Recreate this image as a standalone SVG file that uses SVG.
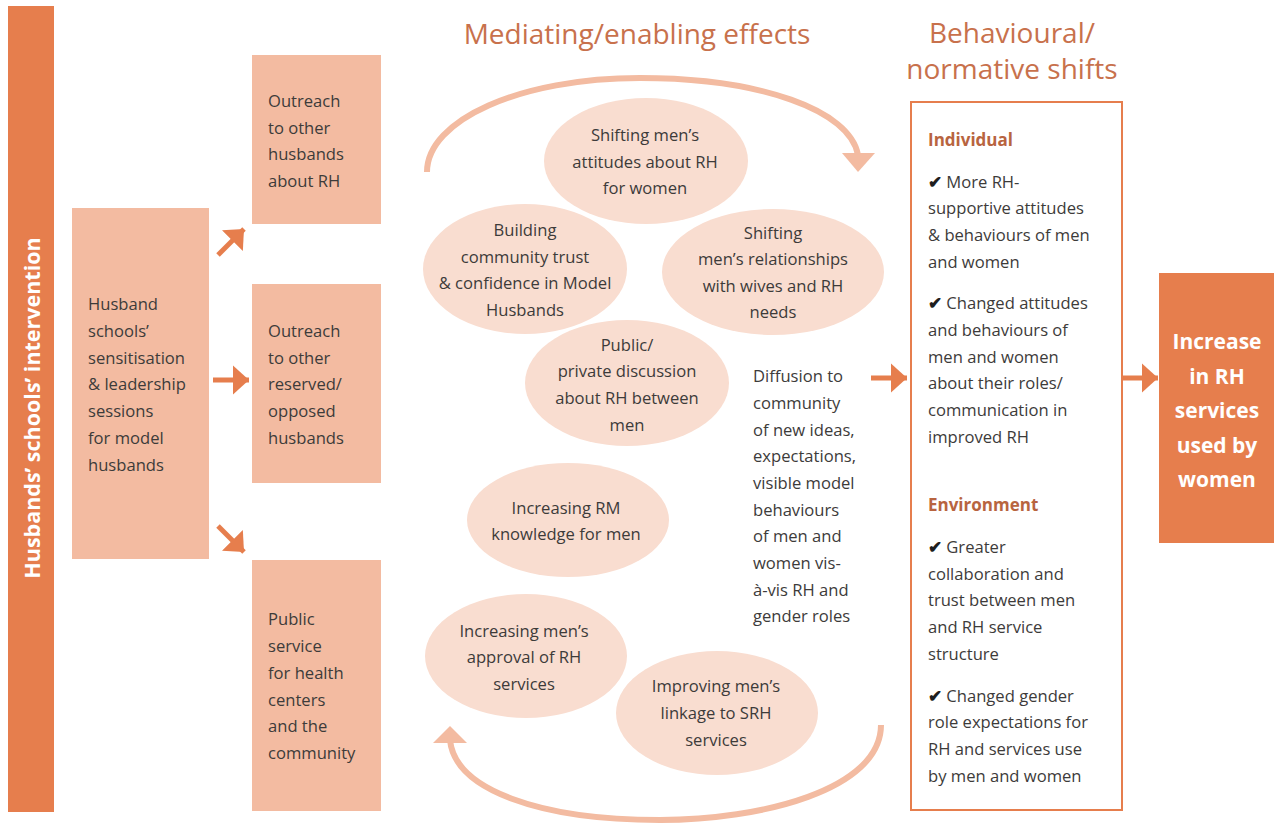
<svg xmlns="http://www.w3.org/2000/svg" width="1274" height="823" viewBox="0 0 1274 823">
<style>
.t{font-family:"Open Sans","Liberation Sans",sans-serif;font-size:16.6px;fill:#3d3b3a}
.c{text-anchor:middle}
.title{font-family:"Open Sans","Liberation Sans",sans-serif;font-size:28px;fill:#c8714c;text-anchor:middle}
.hd{font-family:"Open Sans","Liberation Sans",sans-serif;font-size:17px;font-weight:bold;fill:#b8643f}
.w{font-family:"Open Sans","Liberation Sans",sans-serif;font-weight:bold;fill:#ffffff}
.box{fill:#f3bba1}
.ell{fill:#f9ddd0}
.dark{fill:#e67e4d}
.ck{fill:#1e1e1e;font-weight:bold}
.arr{stroke:#e67e4d;stroke-width:5;fill:none}
</style>
<defs>
<marker id="ah" viewBox="0 0 10 18" refX="10" refY="9" markerWidth="3.3" markerHeight="5.9" orient="auto" markerUnits="strokeWidth">
<path d="M0,0 L10,9 L0,18 z" fill="#e67e4d"/>
</marker>
</defs>

<g id="intervention">
<rect class="dark" x="8" y="6" width="46" height="806"/>
<text class="w" font-size="21.5" text-anchor="middle" transform="translate(40,408) rotate(-90)">Husbands’ schools’ intervention</text>
</g>

<g id="husband-schools">
<rect class="box" x="72" y="208" width="137" height="351"/>
<text class="t" x="88" y="310">Husband</text>
<text class="t" x="88" y="337">schools’</text>
<text class="t" x="88" y="364">sensitisation</text>
<text class="t" x="88" y="390">&amp; leadership</text>
<text class="t" x="88" y="417">sessions</text>
<text class="t" x="88" y="444">for model</text>
<text class="t" x="88" y="471">husbands</text>
</g>

<g id="outreach-husbands">
<rect class="box" x="252" y="55" width="129" height="169"/>
<text class="t" x="268" y="107">Outreach</text>
<text class="t" x="268" y="134">to other</text>
<text class="t" x="268" y="160">husbands</text>
<text class="t" x="268" y="187">about RH</text>
</g>

<g id="outreach-reserved">
<rect class="box" x="252" y="284" width="129" height="199"/>
<text class="t" x="268" y="337">Outreach</text>
<text class="t" x="268" y="364">to other</text>
<text class="t" x="268" y="390">reserved/</text>
<text class="t" x="268" y="417">opposed</text>
<text class="t" x="268" y="444">husbands</text>
</g>

<g id="public-service">
<rect class="box" x="252" y="560" width="129" height="251"/>
<text class="t" x="268" y="625">Public</text>
<text class="t" x="268" y="652">service</text>
<text class="t" x="268" y="679">for health</text>
<text class="t" x="268" y="706">centers</text>
<text class="t" x="268" y="732">and the</text>
<text class="t" x="268" y="759">community</text>
</g>

<text class="title" x="637" y="44">Mediating/enabling effects</text>
<text class="title" x="1012" y="43">Behavioural/</text>
<text class="title" x="1012" y="79">normative shifts</text>

<g id="e-attitudes">
<ellipse class="ell" cx="646" cy="161" rx="102" ry="63"/>
<text class="t c" x="645" y="141">Shifting men’s</text>
<text class="t c" x="645" y="168">attitudes about RH</text>
<text class="t c" x="645" y="194">for women</text>
</g>
<g id="e-trust">
<ellipse class="ell" cx="525" cy="269" rx="102" ry="65"/>
<text class="t c" x="525" y="236">Building</text>
<text class="t c" x="525" y="263">community trust</text>
<text class="t c" x="525" y="289">&amp; confidence in Model</text>
<text class="t c" x="525" y="316">Husbands</text>
</g>
<g id="e-relationships">
<ellipse class="ell" cx="773" cy="272" rx="111" ry="63"/>
<text class="t c" x="773" y="239">Shifting</text>
<text class="t c" x="773" y="265">men’s relationships</text>
<text class="t c" x="773" y="292">with wives and RH</text>
<text class="t c" x="773" y="318">needs</text>
</g>
<g id="e-discussion">
<ellipse class="ell" cx="627" cy="383" rx="102" ry="63"/>
<text class="t c" x="627" y="351">Public/</text>
<text class="t c" x="627" y="377">private discussion</text>
<text class="t c" x="627" y="404">about RH between</text>
<text class="t c" x="627" y="431">men</text>
</g>
<g id="e-knowledge">
<ellipse class="ell" cx="568" cy="520" rx="101" ry="57"/>
<text class="t c" x="566" y="514">Increasing RM</text>
<text class="t c" x="566" y="540">knowledge for men</text>
</g>
<g id="e-approval">
<ellipse class="ell" cx="526" cy="656" rx="101" ry="62"/>
<text class="t c" x="524" y="637">Increasing men’s</text>
<text class="t c" x="524" y="663">approval of RH</text>
<text class="t c" x="524" y="690">services</text>
</g>
<g id="e-linkage">
<ellipse class="ell" cx="717" cy="713" rx="101" ry="62"/>
<text class="t c" x="716" y="692">Improving men’s</text>
<text class="t c" x="716" y="719">linkage to SRH</text>
<text class="t c" x="716" y="746">services</text>
</g>

<g id="diffusion">
<text class="t" x="753" y="382">Diffusion to</text>
<text class="t" x="753" y="409">community</text>
<text class="t" x="753" y="436">of new ideas,</text>
<text class="t" x="753" y="462">expectations,</text>
<text class="t" x="753" y="489">visible model</text>
<text class="t" x="753" y="516">behaviours</text>
<text class="t" x="753" y="542">of men and</text>
<text class="t" x="753" y="569">women vis-</text>
<text class="t" x="753" y="596">à-vis RH and</text>
<text class="t" x="753" y="622">gender roles</text>
</g>

<g id="shifts">
<rect x="911" y="102" width="211" height="708" fill="#ffffff" stroke="#e67e4d" stroke-width="2"/>
<text class="hd" x="928" y="146">Individual</text>
<text class="t" x="928" y="188"><tspan class="ck">✔</tspan> More RH-</text>
<text class="t" x="928" y="214">supportive attitudes</text>
<text class="t" x="928" y="241">&amp; behaviours of men</text>
<text class="t" x="928" y="268">and women</text>
<text class="t" x="928" y="309"><tspan class="ck">✔</tspan> Changed attitudes</text>
<text class="t" x="928" y="336">and behaviours of</text>
<text class="t" x="928" y="363">men and women</text>
<text class="t" x="928" y="389">about their roles/</text>
<text class="t" x="928" y="416">communication in</text>
<text class="t" x="928" y="443">improved RH</text>
<text class="hd" x="928" y="511">Environment</text>
<text class="t" x="928" y="553"><tspan class="ck">✔</tspan> Greater</text>
<text class="t" x="928" y="580">collaboration and</text>
<text class="t" x="928" y="606">trust between men</text>
<text class="t" x="928" y="633">and RH service</text>
<text class="t" x="928" y="660">structure</text>
<text class="t" x="928" y="702"><tspan class="ck">✔</tspan> Changed gender</text>
<text class="t" x="928" y="728">role expectations for</text>
<text class="t" x="928" y="755">RH and services use</text>
<text class="t" x="928" y="782">by men and women</text>
</g>

<g id="outcome">
<rect class="dark" x="1159" y="273" width="115" height="270"/>
<text class="w c" font-size="21" x="1217" y="349">Increase</text>
<text class="w c" font-size="21" x="1217" y="384">in RH</text>
<text class="w c" font-size="21" x="1217" y="418">services</text>
<text class="w c" font-size="21" x="1217" y="453">used by</text>
<text class="w c" font-size="21" x="1217" y="487">women</text>
</g>

<g id="connectors">
<line class="arr" x1="218" y1="255" x2="244" y2="229" marker-end="url(#ah)"/>
<line class="arr" x1="213" y1="380" x2="249" y2="380" marker-end="url(#ah)"/>
<line class="arr" x1="218" y1="526" x2="244" y2="552" marker-end="url(#ah)"/>
<line class="arr" x1="871" y1="378" x2="907" y2="378" marker-end="url(#ah)"/>
<line class="arr" x1="1123" y1="378" x2="1158" y2="378" marker-end="url(#ah)"/>
<path d="M427,172 C427,120 520,78 640,78 C760,78 850,110 858,155" fill="none" stroke="#f3bba1" stroke-width="6"/>
<path d="M842,153 L875,153 L858,172 z" fill="#f3bba1"/>
<path d="M881,725 C881,790 760,820 660,820 C540,820 455,790 450,740" fill="none" stroke="#f3bba1" stroke-width="6"/>
<path d="M433,743 L467,743 L450,726 z" fill="#f3bba1"/>
</g>
</svg>
